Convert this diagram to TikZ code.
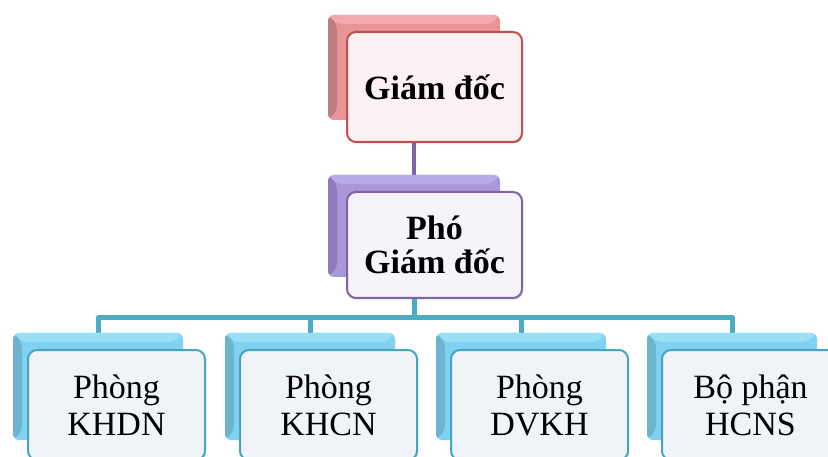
\documentclass[tikz,border=0pt]{standalone}
\usepackage{fontspec}
\setmainfont{Liberation Serif}
\usetikzlibrary{calc,shadows}
\pgfdeclarelayer{wires}
\pgfsetlayers{wires,main}

% accent palettes: body, top bevel, left bevel, frame, face
\definecolor{rBody}{HTML}{E99597}
\definecolor{rTop}{HTML}{F2AAAC}
\definecolor{rLeft}{HTML}{BC7D7F}
\definecolor{rFrame}{HTML}{C0504D}
\definecolor{rFace}{HTML}{FCF2F4}
\definecolor{pBody}{HTML}{AA97DA}
\definecolor{pTop}{HTML}{BBAAEA}
\definecolor{pLeft}{HTML}{8E7CB9}
\definecolor{pFrame}{HTML}{8064A2}
\definecolor{pFace}{HTML}{F6F3FA}
\definecolor{pWire}{HTML}{7F62A9}
\definecolor{bBody}{HTML}{80D2F0}
\definecolor{bTop}{HTML}{98E0F8}
\definecolor{bLeft}{HTML}{6DB5CF}
\definecolor{bFrame}{HTML}{46A5C3}
\definecolor{bFace}{HTML}{F0F4F9}
\definecolor{bWire}{HTML}{4BACC6}

\tikzset{
  backbox/.style n args={3}{
    draw=none, rounded corners=6pt, fill=#1,
    path picture={
      \fill[#2] (path picture bounding box.north west)
        -- (path picture bounding box.north east)
        -- ([shift={(-9pt,-9pt)}]path picture bounding box.north east)
        -- ([shift={(9pt,-9pt)}]path picture bounding box.north west) -- cycle;
      \fill[#3] (path picture bounding box.north west)
        -- ([shift={(9pt,-9pt)}]path picture bounding box.north west)
        -- ([shift={(9pt,9pt)}]path picture bounding box.south west)
        -- (path picture bounding box.south west) -- cycle;
    }},
  frontbox/.style 2 args={
    draw=#1, fill=#2, line width=2pt, rounded corners=9pt,
    align=center, inner sep=0pt,
    drop shadow={shadow xshift=1pt, shadow yshift=-1.5pt, opacity=0.18, fill=black}},
  headtext/.style={font=\fontsize{34}{34}\selectfont\bfseries},
  unittext/.style={font=\fontsize{34}{37}\selectfont},
  wire/.style={line width=#1, line cap=butt},
}

\begin{document}
\begin{tikzpicture}[x=1pt, y=-1pt]
  \useasboundingbox (0,0) rectangle (828,457);

  % director
  \node[backbox={rBody}{rTop}{rLeft}, minimum width=172pt, minimum height=105pt] (gdb) at (414,67.5) {};
  \node[frontbox={rFrame}{rFace}, headtext, minimum width=175pt, minimum height=110pt] (gd) at (434.5,87) {Giám đốc};

  % deputy director
  \node[backbox={pBody}{pTop}{pLeft}, minimum width=172pt, minimum height=102pt] (pgdb) at (414,226) {};
  \node[frontbox={pFrame}{pFace}, headtext, minimum width=175pt, minimum height=106pt] (pgd) at (434.5,245) {Phó\\Giám đốc};

  % departments
  \foreach \n/\bx/\txt in {1/98/{Phòng\\KHDN}, 2/310/{Phòng\\KHCN}, 3/521/{Phòng\\DVKH}, 4/732/{Bộ phận\\HCNS}} {
    \node[backbox={bBody}{bTop}{bLeft}, minimum width=170pt, minimum height=107pt] (u\n b) at (\bx,386.5) {};
    \node[frontbox={bFrame}{bFace}, unittext, minimum width=177pt, minimum height=110pt] (u\n) at (\bx+18.5,405) {\txt};
  }

  \coordinate (bus) at (0,318);

  \begin{pgfonlayer}{wires}
    \draw[wire=4pt, pWire] (gdb.south) -- (pgdb.north);
    \draw[wire=5pt, bWire] (pgdb.south) -- (pgdb.south |- bus);
    \draw[wire=5pt, bWire, line join=round] (u1b.north) -- (u1b.north |- bus) -- (u4b.north |- bus) -- (u4b.north);
    \draw[wire=5pt, bWire] (u2b.north) -- (u2b.north |- bus);
    \draw[wire=5pt, bWire] (u3b.north) -- (u3b.north |- bus);
  \end{pgfonlayer}
\end{tikzpicture}
\end{document}
